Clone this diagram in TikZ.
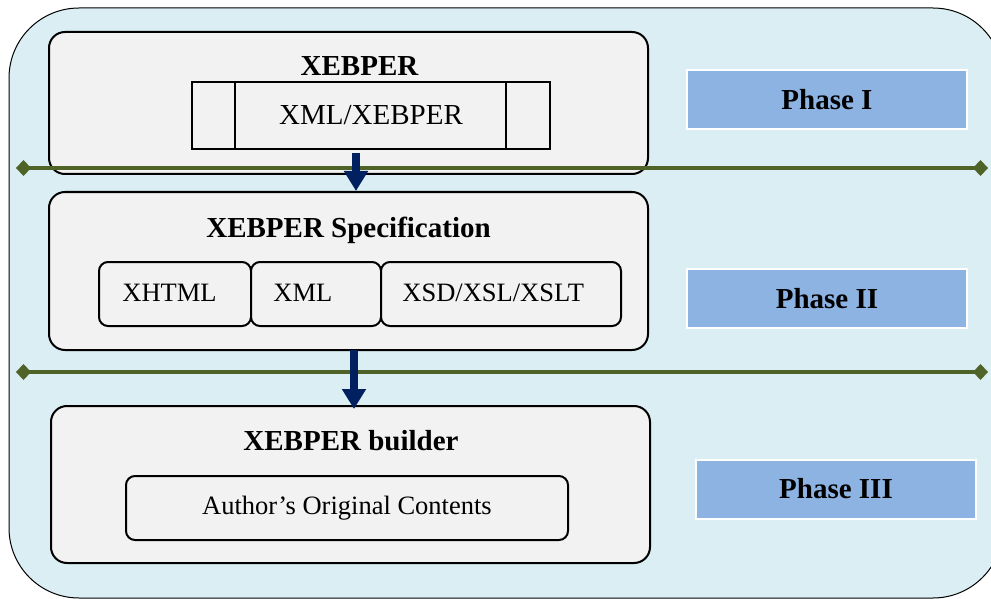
\documentclass[tikz,border=0pt]{standalone}
\usepackage{fontspec}
\setmainfont{Liberation Serif}
\usetikzlibrary{arrows.meta,fit}
\definecolor{paleblue}{HTML}{DAEEF3}
\definecolor{panel}{HTML}{F2F2F2}
\definecolor{phaseblue}{HTML}{8DB3E2}
\definecolor{olivegreen}{HTML}{4F6228}
\definecolor{navyblue}{HTML}{002060}

\begin{document}
\begin{tikzpicture}[x=0.5pt,y=-0.5pt,
  framebox/.style={draw=black, line width=0.5pt, fill=paleblue, rounded corners=35pt, inner sep=0pt},
  panelbox/.style={draw=black, line width=1pt, fill=panel, rounded corners=8pt, inner sep=0pt},
  itembox/.style={draw=black, line width=1pt, fill=panel, rounded corners=4.5pt, inner sep=0pt},
  procbox/.style={draw=black, line width=1pt, fill=panel, inner sep=0pt,
    minimum width=179pt, minimum height=33.5pt,
    font=\fontsize{14.5}{17}\selectfont},
  phasebox/.style={draw=white, line width=1pt, fill=phaseblue, inner sep=0pt,
    minimum width=140pt, minimum height=29.5pt,
    font=\fontsize{14.5}{17}\selectfont\bfseries},
  titletext/.style={font=\fontsize{14.5}{17}\selectfont\bfseries, anchor=base, inner sep=0pt},
  itemtext/.style={font=\fontsize{13.25}{16}\selectfont, anchor=base west, inner sep=0pt},
  divider/.style={olivegreen, line width=2pt,
    {Diamond[width=8pt,length=7.5pt]}-{Diamond[width=8pt,length=7.5pt]}},
  flow/.style={navyblue, line width=4pt, -{Triangle[width=11.5pt,length=10pt]}}
]
\path[use as bounding box] (0,0) rectangle (991,599);

% outer frame, partly running off the page
\begin{scope}
  \clip (0,0) rectangle (991,599);
  \node[framebox, fit={(9,8) (1003,598)}] (frame) {};
\end{scope}

% phase I panel
\node[panelbox, fit={(49,32) (648,174)}] (b1) {};
\node[titletext] (t1) at (359.5,76) {XEBPER};
\node[procbox] (xmlbox) at (371,115.5) {XML/XEBPER};
\draw[line width=1pt] (235,82) -- (235,149) (506,82) -- (506,149);

% phase II panel
\node[panelbox, fit={(49,192) (648,350)}] (b2) {};
\node[titletext] (t2) at (348.5,237) {XEBPER Specification};
\node[itembox, fit={(99,262) (251,326)}] (i1) {};
\node[itembox, fit={(251,262) (381,326)}] (i2) {};
\node[itembox, fit={(381,262) (621,326)}] (i3) {};
\node[itemtext] (l1) at (122,301) {XHTML};
\node[itemtext] (l2) at (273,301) {XML};
\node[itemtext] (l3) at (402,301) {XSD/XSL/XSLT};

% phase III panel
\node[panelbox, fit={(51,406) (650,563)}] (b3) {};
\node[titletext] (t3) at (351,450) {XEBPER builder};
\node[itembox, fit={(126,476) (568,540)}] (i4) {};
\node[itemtext, anchor=base] (l4) at (347,514) {Author’s Original Contents};

% phase labels
\node[phasebox] (p1) at (827,100) {Phase I};
\node[phasebox] (p2) at (827,298.5) {Phase II};
\node[phasebox] (p3) at (836,489) {Phase III};

% dividers between phases
\coordinate (d1l) at (16,168);
\coordinate (d1r) at (988,168);
\coordinate (d2l) at (16,372);
\coordinate (d2r) at (988,372);
\draw[divider] (d1l) -- (d1r);
\draw[divider] (d2l) -- (d2r);

% flow arrows
\coordinate (a1) at (356,153);
\coordinate (a2) at (354,350);
\draw[flow] (a1) -- (a1 |- b2.north);
\draw[flow] (a2) -- ([yshift=-2pt]a2 |- b3.north);
\end{tikzpicture}
\end{document}
